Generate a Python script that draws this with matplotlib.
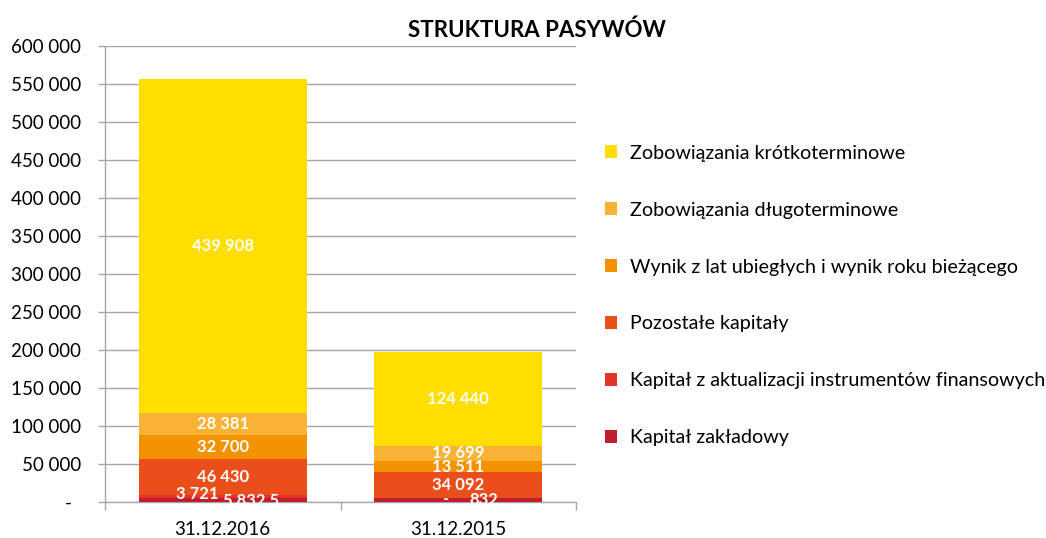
import matplotlib
matplotlib.use("Agg")
import matplotlib.pyplot as plt
from matplotlib.patches import Patch
from matplotlib.ticker import FuncFormatter, FixedLocator
import numpy as np

plt.rcParams['font.family'] = ['Lato', 'DejaVu Sans']

categories = ["31.12.2016", "31.12.2015"]
series_names = [
    "Kapitał zakładowy",
    "Kapitał z aktualizacji instrumentów finansowych",
    "Pozostałe kapitały",
    "Wynik z lat ubiegłych i wynik roku bieżącego",
    "Zobowiązania długoterminowe",
    "Zobowiązania krótkoterminowe",
]
kapital_zakladowy = [5832, 5832]
kapital_aktualizacji = [3721, 0]
pozostale_kapitaly = [46430, 34092]
wynik = [32700, 13511]
zob_dlugo = [28381, 19699]
zob_krotko = [439908, 124440]
series_values = [kapital_zakladowy, kapital_aktualizacji, pozostale_kapitaly,
                 wynik, zob_dlugo, zob_krotko]
colors = ["#BE1E2D", "#E63329", "#E94E1B", "#F39200", "#F9B233", "#FFDE00"]

# data labels as displayed (some overlap / are offset in the original)
label_texts = [
    ["5 832 5", "832"],
    ["3 721", "-"],
    ["46 430", "34 092"],
    ["32 700", "13 511"],
    ["28 381", "19 699"],
    ["439 908", "124 440"],
]
label_dx = [[0.12, 0.11], [-0.11, -0.05], [0, 0], [0, 0], [0, 0], [0, 0]]
label_dy = [[-1200, 0], [3000, -1500], [0, 0], [0, -700], [0, 1500], [0, 0]]

yticks = list(range(0, 600001, 50000))

fig = plt.figure(figsize=(10.46, 5.38), dpi=100)
ax = fig.add_axes([105/1046, 1-502/538, (576-105)/1046, (502-46)/538])

x = np.arange(len(categories))
width = 0.715
bottom = np.zeros(len(categories))
for name, vals, col in zip(series_names, series_values, colors):
    vals = np.array(vals, dtype=float)
    ax.bar(x, vals, width, bottom=bottom, color=col, label=name, zorder=3)
    bottom += vals

bottom = np.zeros(len(categories))
for i, vals in enumerate(series_values):
    vals = np.array(vals, dtype=float)
    for j in range(len(categories)):
        cy = bottom[j] + vals[j] / 2 + label_dy[i][j]
        ax.text(x[j] + label_dx[i][j], cy, label_texts[i][j], ha='center', va='center',
                color='white', fontsize=12, fontweight='bold', zorder=5)
    bottom += vals

ax.set_xlim(-0.5, 1.5)
ax.set_ylim(0, 600000)
ax.yaxis.set_major_locator(FixedLocator(yticks))

def fmt(v, pos):
    if v == 0:
        return "-  "
    return f"{int(v):,}".replace(",", " ")

ax.yaxis.set_major_formatter(FuncFormatter(fmt))
ax.grid(axis='y', color='#A6A6A6', linewidth=1, zorder=0)
ax.set_axisbelow(True)

ax.set_xticks([-0.5, 0.5, 1.5])
ax.set_xticklabels([])
ax.set_xticks(x, minor=True)
ax.set_xticklabels(categories, minor=True)
ax.tick_params(axis='x', which='minor', length=0, pad=14, labelsize=13.5)
ax.tick_params(axis='x', which='major', length=6, color='#A6A6A6', width=1)
ax.tick_params(axis='y', length=5, color='#A6A6A6', width=1, pad=12, labelsize=13.5)

for s in ['top', 'right']:
    ax.spines[s].set_visible(False)
for s in ['left', 'bottom']:
    ax.spines[s].set_color('#A6A6A6')
    ax.spines[s].set_linewidth(1)

fig.text(537/1046, 1-30/538, "STRUKTURA PASYWÓW", ha='center', va='center',
         fontsize=16, fontweight='bold', color='black')

handles = [Patch(facecolor=c, edgecolor='none') for c in colors][::-1]
labels = series_names[::-1]
fig.legend(handles, labels, loc='upper left', bbox_to_anchor=(597/1046, 1-137/538),
           frameon=False, fontsize=14.2, handlelength=0.63, handleheight=0.63,
           handletextpad=0.65, labelspacing=2.02, borderaxespad=0)

fig.savefig("out.png", dpi=100)
